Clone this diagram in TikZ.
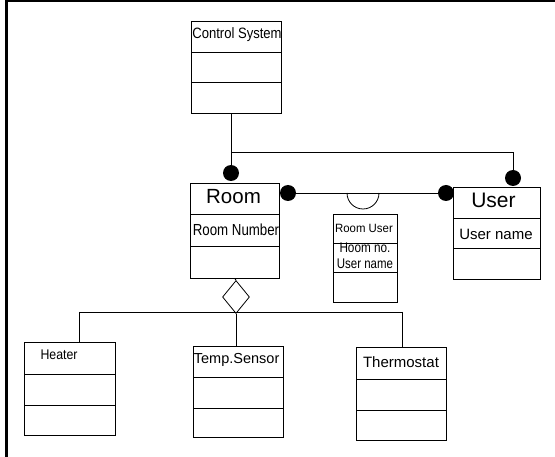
\documentclass[tikz,border=0pt]{standalone}
\usepackage{fontspec}
\usepackage{graphicx}
\setmainfont{Liberation Sans}
\newcommand{\nsq}[2]{\scalebox{#1}[1]{#2}}
\usetikzlibrary{shapes.geometric}
\begin{document}
\begin{tikzpicture}[x=1pt,y=-1pt, line width=0.8pt,
  box/.style={draw, rectangle, inner sep=0pt, anchor=north west},
  dot/.style={circle, fill=black, inner sep=0pt, minimum size=16pt},
  lbl/.style={inner sep=0pt},
  small/.style={inner sep=0pt, align=center}]
\useasboundingbox (0,0) rectangle (555,457);
% frame
\draw[line width=3pt] (6,0) -- (6,457);
\draw[line width=2pt] (6,1.5) -- (555,1.5);

% Control System
\node[box, minimum width=90pt, minimum height=92pt] (cs) at (191,21) {};
\draw (cs.west |- 0,52) -- (cs.east |- 0,52);
\draw (cs.west |- 0,82) -- (cs.east |- 0,82);
\node[lbl, anchor=west, font=\fontsize{15}{17}\selectfont] (cst) at (192,35) {\nsq{0.87}{Control System}};

% Room
\node[box, minimum width=89pt, minimum height=95pt] (room) at (190,183) {};
\draw (room.west |- 0,214) -- (room.east |- 0,214);
\draw (room.west |- 0,246) -- (room.east |- 0,246);
\node[lbl, font=\fontsize{20.5}{23}\selectfont] (roomt) at (233.5,197) {Room};
\node[lbl, font=\fontsize{16}{18}\selectfont] (roomn) at (236,230) {\nsq{0.83}{Room Number}};

% Room User
\node[box, minimum width=64pt, minimum height=88pt] (ru) at (333,214) {};
\draw (ru.west |- 0,243) -- (ru.east |- 0,243);
\draw (ru.west |- 0,272) -- (ru.east |- 0,272);
\node[small, font=\fontsize{12}{13}\selectfont] (rut) at (364,228) {\nsq{0.95}{Room User}};
\node[small, font=\fontsize{14}{15.5}\selectfont] (rua) at (365,256) {\nsq{0.84}{Hoom no.}\\\nsq{0.82}{User name}};

% User
\node[box, minimum width=87pt, minimum height=92pt] (user) at (453,187) {};
\draw (user.west |- 0,218) -- (user.east |- 0,218);
\draw (user.west |- 0,248) -- (user.east |- 0,248);
\node[lbl, font=\fontsize{21}{23}\selectfont] (usert) at (493.5,200) {User};
\node[lbl, font=\fontsize{15}{17}\selectfont] (usern) at (496,234) {User name};

% Heater
\node[box, minimum width=91pt, minimum height=93pt] (heater) at (24,342) {};
\draw (heater.west |- 0,374) -- (heater.east |- 0,374);
\draw (heater.west |- 0,405) -- (heater.east |- 0,405);
\node[lbl, font=\fontsize{14}{16}\selectfont] (heatert) at (59,355) {\nsq{0.88}{Heater}};

% Temp.Sensor
\node[box, minimum width=90pt, minimum height=91pt] (temp) at (193,346) {};
\draw (temp.west |- 0,377) -- (temp.east |- 0,377);
\draw (temp.west |- 0,408) -- (temp.east |- 0,408);
\node[lbl, anchor=west, font=\fontsize{14.5}{16}\selectfont] (tempt) at (193.5,360) {Temp.Sensor};

% Thermostat
\node[box, minimum width=90pt, minimum height=93pt] (thermo) at (356,347) {};
\draw (thermo.west |- 0,379) -- (thermo.east |- 0,379);
\draw (thermo.west |- 0,410) -- (thermo.east |- 0,410);
\node[lbl, font=\fontsize{15}{17}\selectfont] (thermot) at (401,362) {Thermostat};

% dots
\node[dot] (rd1) at (231,173) {};
\node[dot] (rd2) at (288,193) {};
\node[dot] (ud2) at (446,193) {};
\node[dot] (ud1) at (513,178) {};

% connectors from Control System
\coordinate (j1) at (231,152);
\coordinate (j2) at (513,152);
\draw (cs.south -| rd1) -- (rd1);
\draw (j1) -- (j2) -- (ud1);

% Room -- User association with crossing
\draw (rd2) -- (ud2);
\draw (347,193) arc[start angle=180, end angle=360, radius=16pt];

% aggregation
\node[diamond, draw, inner sep=0pt, minimum width=27pt, minimum height=33pt] (dia) at (236,297) {};
\draw (room.south) -- (dia.north);
\coordinate (b1) at (79,312);
\coordinate (b2) at (402,312);
\draw (b1) -- (b2);
\draw (b1) -- (b1 |- heater.north);
\draw (dia.south) -- (dia.south |- temp.north);
\draw (b2) -- (b2 |- thermo.north);
\end{tikzpicture}
\end{document}
